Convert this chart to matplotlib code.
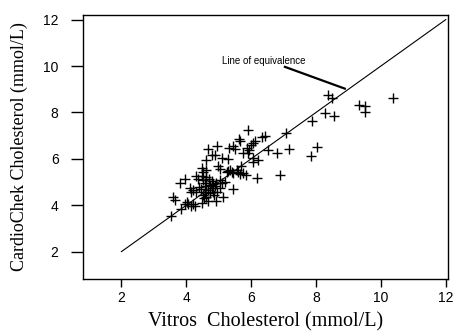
import matplotlib
matplotlib.use("Agg")
import matplotlib.pyplot as plt

vitros = [3.54, 3.59, 3.65, 3.80, 3.95, 3.85, 3.95, 4.01, 4.06, 4.11, 4.16, 4.21, 4.21, 4.26,
          4.31, 4.36, 4.47, 4.52, 4.47, 4.47, 4.52, 4.62, 4.57, 4.62, 4.73, 4.78, 4.67, 4.57,
          4.52, 4.62, 4.73, 4.83, 4.88, 4.93, 4.67, 4.93, 5.14, 5.43, 5.03, 5.09, 4.62, 4.78,
          4.88, 4.67, 4.95, 5.09, 5.29, 4.98, 5.03, 5.29, 5.44, 5.60, 5.65, 5.75, 5.84, 5.70,
          5.32, 5.44, 5.50, 5.65, 5.63, 5.86, 5.94, 5.75, 5.91, 6.01, 6.06, 6.11, 5.91, 6.32,
          6.42, 6.06, 6.22, 6.06, 6.17, 6.52, 6.80, 7.17, 6.89, 7.09, 7.86, 8.02, 7.88, 8.27,
          8.55, 8.38, 8.48, 9.33, 9.51, 9.51, 10.36, 5.40, 5.24, 5.34, 4.83, 4.78, 4.70, 4.60,
          4.40, 4.45, 4.85, 4.30, 4.15, 4.55, 5.05, 5.20, 4.95, 5.55]
cardiochek = [3.54, 4.37, 4.23, 4.95, 5.12, 3.83, 4.06, 4.12, 4.05, 4.74, 4.59, 4.66, 4.06, 3.97,
              5.27, 5.12, 5.24, 5.09, 4.09, 5.60, 5.45, 5.53, 4.95, 4.84, 4.88, 4.74, 4.66, 4.55,
              4.45, 4.37, 4.52, 4.59, 4.81, 4.95, 4.19, 4.19, 4.37, 4.69, 5.09, 4.95, 5.93, 6.17,
              6.17, 6.42, 6.56, 6.03, 5.99, 5.70, 5.56, 5.49, 5.41, 5.45, 5.35, 5.38, 5.31, 5.70,
              6.46, 6.56, 6.42, 6.75, 6.85, 6.46, 6.36, 6.25, 6.27, 6.60, 6.68, 6.75, 7.25, 6.94,
              6.99, 6.03, 5.96, 5.88, 5.17, 6.36, 6.25, 6.43, 5.31, 7.11, 6.13, 6.53, 7.65, 7.97,
              7.86, 8.76, 8.62, 8.33, 8.26, 8.04, 8.62, 5.45, 5.45, 5.53, 4.90, 5.05, 5.15, 5.20,
              4.80, 4.70, 4.45, 4.55, 3.95, 4.30, 4.75, 5.00, 4.55, 5.50]
equiv_line = [2, 12]
ticks = [2, 4, 6, 8, 10, 12]
tick_labels = ["2", "4", "6", "8", "10", "12"]
xlabel = "Vitros  Cholesterol (mmol/L)"
ylabel = "CardioChek Cholesterol (mmol/L)"
note = "Line of equivalence"
note_pos = (5.10, 10.23)
pointer_x = [7.01, 8.92]
pointer_y = [9.98, 9.01]

fig = plt.figure(figsize=(4.55, 3.36), dpi=100)
ax = fig.add_axes([83/455, 57/336, 365/455, 264/336])

ax.plot(equiv_line, equiv_line, color="black", lw=0.8)
ax.plot(vitros, cardiochek, linestyle="none", marker="+", color="black",
        markersize=6.5, markeredgewidth=1.0)
ax.plot(pointer_x, pointer_y, color="black", lw=1.6, solid_capstyle="butt")
ax.text(note_pos[0], note_pos[1], note, fontsize=7, family="Liberation Sans",
        ha="left", va="center")

ax.set_xlim(0.815, 12.07)
ax.set_ylim(0.82, 12.2)
ax.set_xticks(ticks)
ax.set_xticklabels(tick_labels, family="Liberation Sans", fontsize=10)
ax.set_yticks(ticks)
ax.set_yticklabels(tick_labels, family="Liberation Sans", fontsize=10)
ax.tick_params(axis="y", length=8.6, width=1, pad=9)
ax.tick_params(axis="x", length=6, width=1, pad=2.5)
for s in ax.spines.values():
    s.set_linewidth(1.0)
    s.set_color("black")

ax.set_xlabel(xlabel, family="Liberation Serif", fontsize=14.5, labelpad=5)
ax.set_ylabel(ylabel, family="Liberation Serif", fontsize=13, labelpad=11)

fig.savefig("out.png", dpi=100)
